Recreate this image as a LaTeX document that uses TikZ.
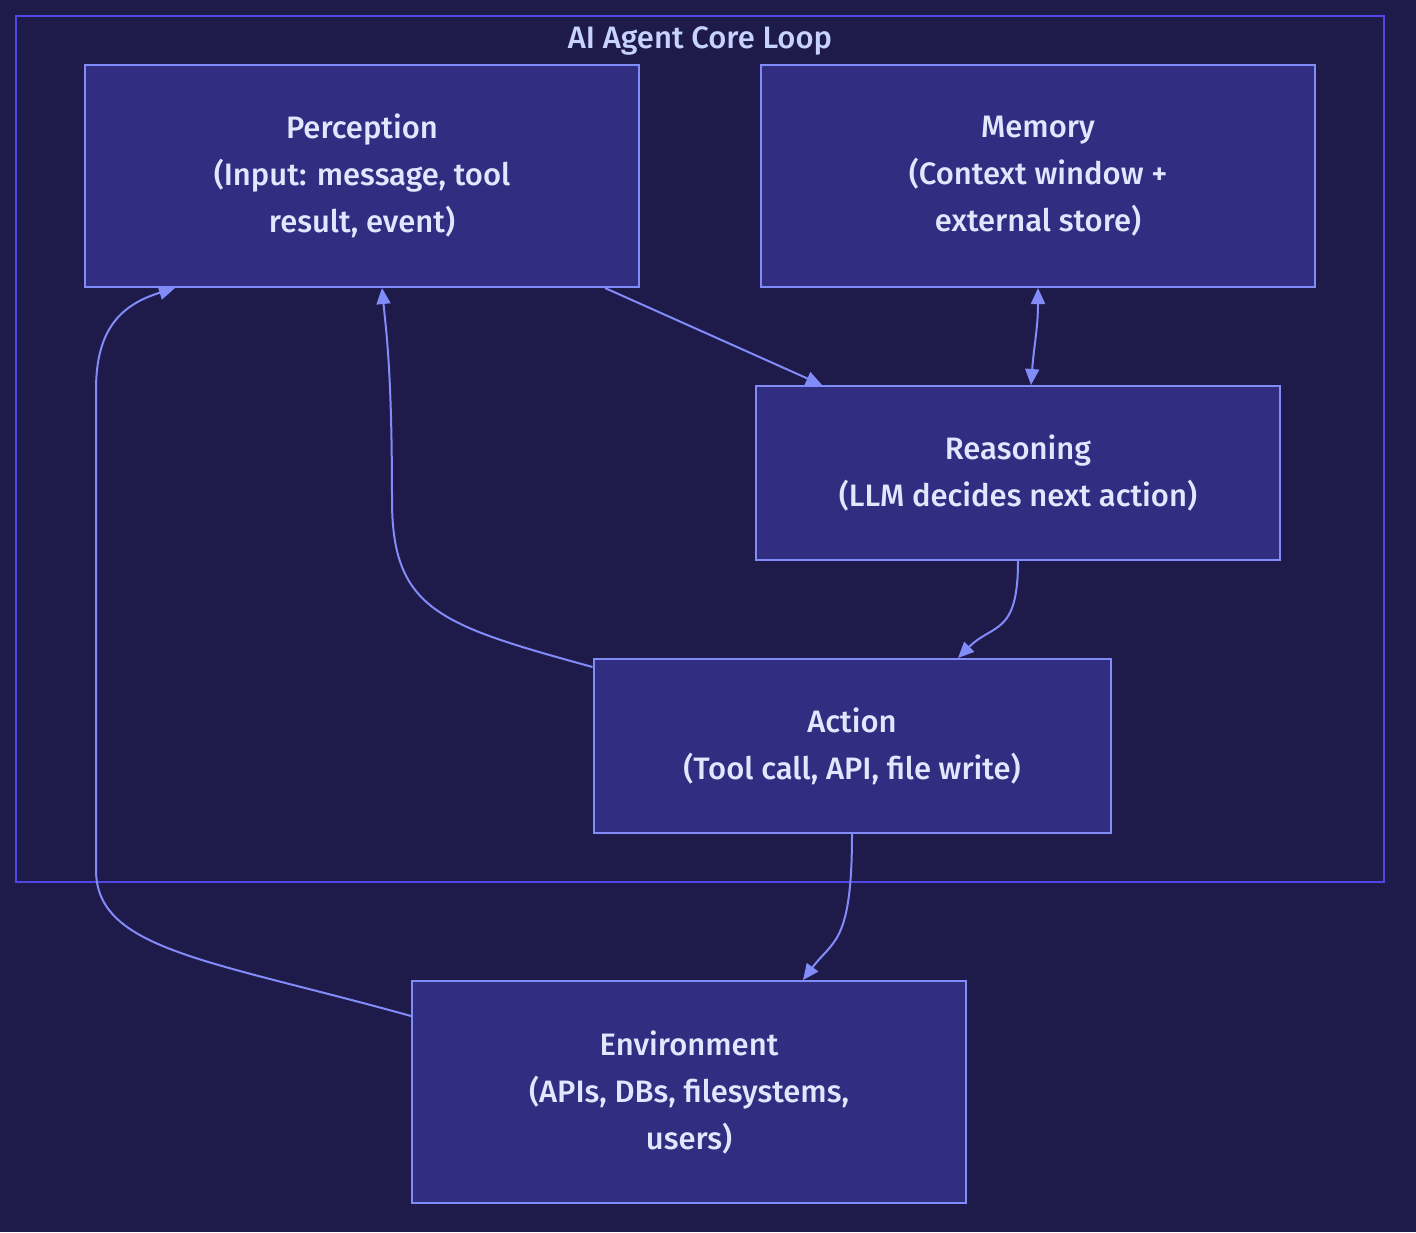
\documentclass[tikz,border=0pt]{standalone}
\usepackage{fontspec}
\setmainfont{Fira Sans Medium}
\usepackage{tikz}
\usetikzlibrary{arrows.meta,positioning}
\definecolor{bg}{HTML}{1E1B4B}
\definecolor{boxfill}{HTML}{312E81}
\definecolor{boxline}{HTML}{818CF8}
\definecolor{frame}{HTML}{4F46E5}
\definecolor{ink}{HTML}{E0E7FF}
\definecolor{titleink}{HTML}{C7D2FE}

\begin{document}
\begin{tikzpicture}[x=1pt, y=-1pt, every node/.style={font=\fontsize{31}{47}\selectfont, text=ink}, stage/.style={draw=boxline, line width=2pt, fill=boxfill, align=center, inner sep=0pt}, arr/.style={-{Triangle[length=16pt,width=14pt]}, line width=2pt, boxline}]
\fill[bg] (0,0) rectangle (1416,1232);
\useasboundingbox (0,0) rectangle (1416,1232);
\draw[frame, line width=2pt] (16,16) rectangle (1384,882);
\node[text=titleink] (title) at (700,41) {AI Agent Core Loop};
\node[stage, minimum width=554pt, minimum height=222pt] (perception) at (362,176) {Perception\\(Input: message, tool\\result, event)};
\node[stage, minimum width=554pt, minimum height=222pt] (memory) at (1038,176) {Memory\\(Context window +\\external store)};
\node[stage, minimum width=524pt, minimum height=174pt] (reasoning) at (1018,473) {Reasoning\\(LLM decides next action)};
\node[stage, minimum width=517pt, minimum height=174pt] (action) at (852,746) {Action\\(Tool call, API, file write)};
\node[stage, minimum width=554pt, minimum height=222pt] (environment) at (689,1092) {Environment\\(APIs, DBs, filesystems,\\users)};
\draw[arr] ([xshift=243pt]perception.south) -- ([xshift=-196pt]reasoning.north);
\draw[arr, {Triangle[length=16pt,width=14pt]}-{Triangle[length=16pt,width=14pt]}] (memory.south) .. controls +(0,40) and +(3,-40) .. ([xshift=13pt]reasoning.north);
\draw[arr] (reasoning.south) .. controls +(0,75) and +(35,-35) .. ([xshift=106pt]action.north);
\draw[arr] ([yshift=-9pt]action.north west) .. controls (440,625) and (392,610) .. (392,500) .. controls (392,370) and (386,330) .. ([xshift=20pt]perception.south);
\draw[arr] (action.south) .. controls +(0,110) and +(30,-40) .. ([xshift=114pt]environment.north);
\draw[arr] ([yshift=76pt]environment.west) .. controls (210,960) and (96,950) .. (96,870) -- (96,390) .. controls (96,330) and (120,305) .. ([xshift=-187pt]perception.south);
\end{tikzpicture}
\end{document}
